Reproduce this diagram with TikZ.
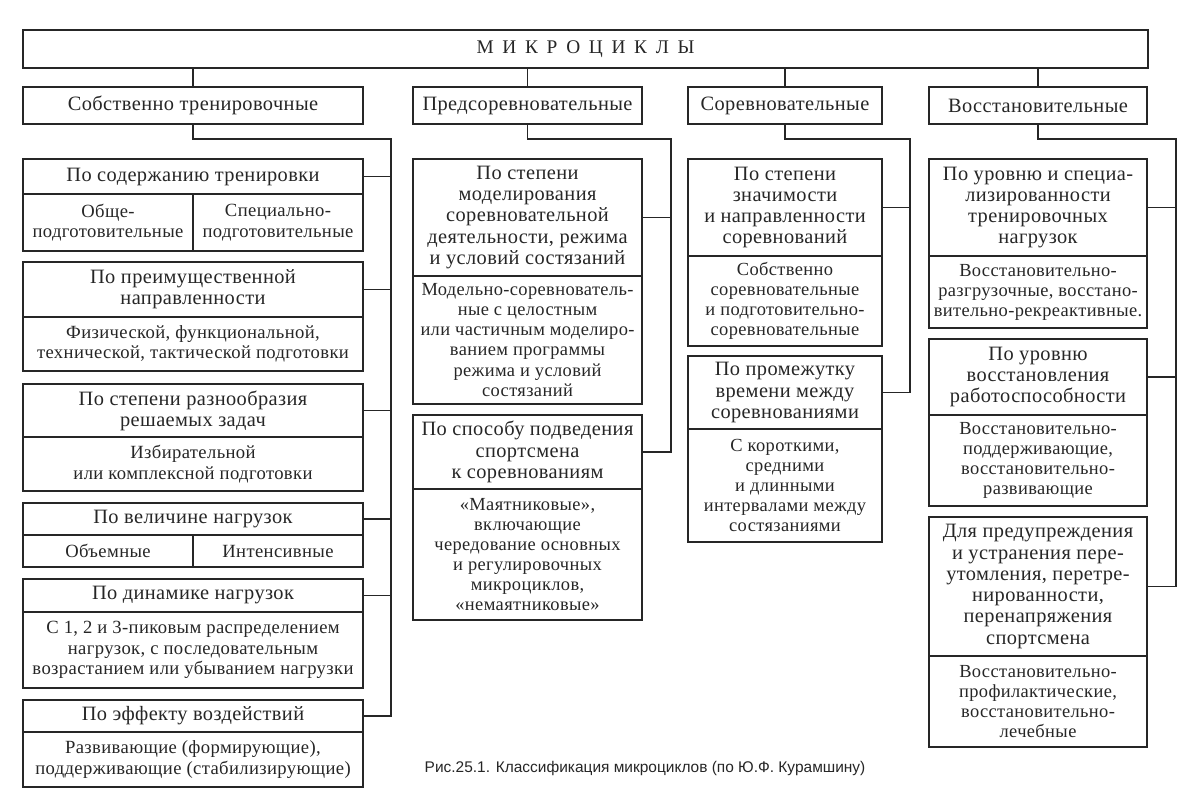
\documentclass[tikz,border=0pt]{standalone}
\usepackage{fontspec}
\setmainfont[LetterSpace=2]{Liberation Serif}
\newfontfamily\titlefont[LetterSpace=45]{Liberation Serif}
\newfontfamily\capfont{Liberation Sans}
\usetikzlibrary{positioning}
\tikzset{
    cell/.style={draw=black!85, text=black!85, line width=0.6pt, inner sep=1pt,
                 outer sep=0pt, align=center},
    head/.style={cell, anchor=north west, font=\fontsize{11.6}{12.1}\selectfont},
    body/.style={cell, font=\fontsize{10.5}{11.4}\selectfont},
    bigbody/.style={body, font=\fontsize{10.6}{11.6}\selectfont},
    wd/.style={minimum width=#1*0.02cm},
    ht/.style={minimum height=#1*0.02cm},
    lnk/.style={draw=black!85, line width=0.6pt}}
\begin{document}
\begin{tikzpicture}[x=0.02cm, y=-0.02cm, node distance=0pt]
\useasboundingbox (0,0) rectangle (1202,799);
% top level
\node[head, wd=1125, ht=38, font=\titlefont\fontsize{11}{12}\selectfont]
    (micro) at (23,30) {МИКРОЦИКЛЫ};
\node[head, wd=340, ht=37] (train) at (23,87) {Собственно тренировочные};
\node[head, wd=229, ht=37] (precomp) at (413,87) {Предсоревновательные};
\node[head, wd=194, ht=37] (comp) at (688,87) {Соревновательные};
\node[head, wd=218, ht=37] (recov) at (929,87) {Восстановительные};

% Собственно тренировочные
\node[head, wd=340, ht=35] (train1) at (23,159) {По содержанию тренировки};
\node[bigbody, wd=170, ht=57, below right=0pt and 0pt of train1.south west]
    (train1a) {Обще-\\подготовительные};
\node[bigbody, wd=170, ht=57, below left=0pt and 0pt of train1.south east]
    (train1b) {Специально-\\подготовительные};
\node[head, wd=340, ht=55] (train2) at (23,262) {По преимущественной\\направленности};
\node[bigbody, wd=340, ht=54, below=of train2]
    (train2a) {Физической, функциональной,\\технической, тактической подготовки};
\node[head, wd=340, ht=53] (train3) at (23,384) {По степени разнообразия\\решаемых задач};
\node[bigbody, wd=340, ht=54, below=of train3]
    (train3a) {Избирательной\\или комплексной подготовки};
\node[head, wd=340, ht=32] (train4) at (23,503) {По величине нагрузок};
\node[bigbody, wd=170, ht=32, below right=0pt and 0pt of train4.south west]
    (train4a) {Объемные};
\node[bigbody, wd=170, ht=32, below left=0pt and 0pt of train4.south east]
    (train4b) {Интенсивные};
\node[head, wd=340, ht=33] (train5) at (23,579) {По динамике нагрузок};
\node[bigbody, wd=340, ht=76, below=of train5]
    (train5a) {С 1, 2 и 3-пиковым распределением\\нагрузок, с последовательным\\возрастанием или убыванием нагрузки};
\node[head, wd=340, ht=32] (train6) at (23,700) {По эффекту воздействий};
\node[bigbody, wd=340, ht=55, below=of train6]
    (train6a) {Развивающие (формирующие),\\поддерживающие (стабилизирующие)};

% Предсоревновательные
\node[head, wd=229, ht=117] (precomp1) at (413,159)
    {По степени\\моделирования\\соревновательной\\деятельности, режима\\и условий состязаний};
\node[body, wd=229, ht=128, below=of precomp1]
    (precomp1a) {Модельно-соревнователь-\\ные с целостным\\или частичным моделиро-\\ванием программы\\режима и условий\\состязаний};
\node[head, wd=229, ht=74] (precomp2) at (413,415)
    {По способу подведения\\спортсмена\\к соревнованиям};
\node[body, wd=229, ht=131, below=of precomp2]
    (precomp2a) {«Маятниковые»,\\включающие\\чередование основных\\и регулировочных\\микроциклов,\\«немаятниковые»};

% Соревновательные
\node[head, wd=194, ht=97] (comp1) at (688,159)
    {По степени\\значимости\\и направленности\\соревнований};
\node[body, wd=194, ht=90, below=of comp1]
    (comp1a) {Собственно\\соревновательные\\и подготовительно-\\соревновательные};
\node[head, wd=194, ht=73] (comp2) at (688,356)
    {По промежутку\\времени между\\соревнованиями};
\node[body, wd=194, ht=113, below=of comp2]
    (comp2a) {С короткими,\\средними\\и длинными\\интервалами между\\состязаниями};

% Восстановительные
\node[head, wd=218, ht=97] (recov1) at (929,159)
    {По уровню и специа-\\лизированности\\тренировочных\\нагрузок};
\node[body, wd=218, ht=72, below=of recov1]
    (recov1a) {Восстановительно-\\разгрузочные, восстано-\\вительно-рекреактивные.};
\node[head, wd=218, ht=76] (recov2) at (929,339)
    {По уровню\\восстановления\\работоспособности};
\node[body, wd=218, ht=91, below=of recov2]
    (recov2a) {Восстановительно-\\поддерживающие,\\восстановительно-\\развивающие};
\node[head, wd=218, ht=139] (recov3) at (929,517)
    {Для предупреждения\\и устранения пере-\\утомления, перетре-\\нированности,\\перенапряжения\\спортсмена};
\node[body, wd=218, ht=91, below=of recov3]
    (recov3a) {Восстановительно-\\профилактические,\\восстановительно-\\лечебные};

\node[font=\capfont\fontsize{8.8}{11}\selectfont, text=black!85] (caption) at (645,768)
    {Рис.25.1. Классификация микроциклов (по Ю.Ф. Курамшину)};

% connectors
\coordinate (trainbus) at (391,139);
\coordinate (precompbus) at (671,139);
\coordinate (compbus) at (910,139);
\coordinate (recovbus) at (1176,139);
\foreach \c in {train,precomp,comp,recov}
    \draw[lnk] (micro.south -| \c.north) -- (\c.north);
\draw[lnk] (train.south) |- (trainbus) |- (train6.east);
\draw[lnk] (precomp.south) |- (precompbus) |- (precomp2.east);
\draw[lnk] (comp.south) |- (compbus) |- (comp2.east);
\draw[lnk] (recov.south) |- (recovbus) |- (recov3.east);
\foreach \n in {1,...,5}
    \draw[lnk] (train\n.east) -- (train\n.east -| trainbus);
\draw[lnk] (precomp1.east) -- (precomp1.east -| precompbus);
\draw[lnk] (comp1.east) -- (comp1.east -| compbus);
\foreach \n in {1,2}
    \draw[lnk] (recov\n.east) -- (recov\n.east -| recovbus);
\end{tikzpicture}
\end{document}
